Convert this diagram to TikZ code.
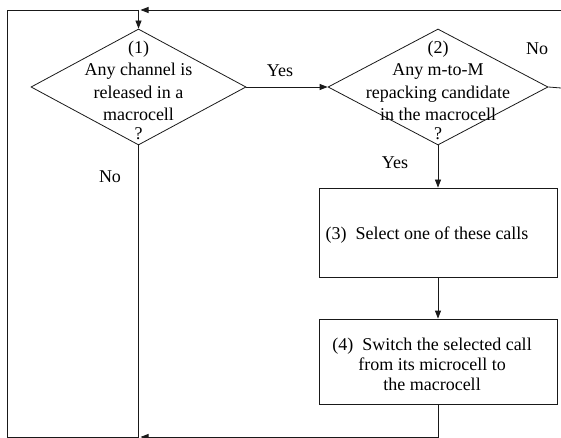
\documentclass[tikz,border=0pt]{standalone}
\usepackage{fontspec}
\setmainfont{Liberation Serif}
\usetikzlibrary{shapes.geometric,arrows.meta}
\begin{document}
\begin{tikzpicture}[x=1pt,y=-1pt,
  line/.style={draw=black!90, line width=0.8pt},
  arr/.style={line, -{Triangle[length=8pt,width=6pt]}},
  dia/.style={diamond, draw=black!90, line width=0.8pt, inner sep=0pt, minimum height=116pt},
  box/.style={rectangle, draw=black!90, line width=0.8pt, inner sep=0pt, minimum width=238pt},
  txt/.style={align=center, inner sep=0pt, font=\fontsize{18}{22.5}\selectfont},
  lbl/.style={inner sep=0pt, font=\fontsize{18}{20}\selectfont}
]
\useasboundingbox (0,0) rectangle (561,438);
\node[dia, minimum width=215pt] (d1) at (138.5,87) {};
\node[dia, minimum width=220pt] (d2) at (438,87) {};
\node[box, minimum height=89pt] (b3) at (438,232.5) {};
\node[box, minimum height=85pt] (b4) at (438,361.5) {};
\node[txt] (t1) at (138.5,90) {(1)\\Any channel is\\released in a\\macrocell\\[-4pt]?};
\node[txt] (t2) at (438,90) {(2)\\Any m-to-M\\repacking candidate\\in the macrocell\\[-4pt]?};
\node[lbl] (t3) at (427,235) {(3)\ \ Select one of these calls};
\node[txt, font=\fontsize{18}{20}\selectfont] (t4) at (432,364) {(4)\ \ Switch the selected call\\from its microcell to\\the macrocell};
\node[lbl] (y1) at (280,71) {Yes};
\node[lbl] (n2) at (537,49) {No};
\node[lbl] (y2) at (395,163) {Yes};
\node[lbl] (n1) at (110,177) {No};
\coordinate (tl) at (7,10);
\coordinate (bl) at (7,437);
\coordinate (j1) at (138.5,10);
\coordinate (j2) at (138.5,437);
\coordinate (re) at (561,88);
\coordinate (rt) at (561,10);
\coordinate (m1) at (140.5,10);
\coordinate (m2) at (140.5,437);
\draw[arr] (d1.east) -- (d2.west);
\draw[arr] (d2.south) -- (b3.north);
\draw[arr] (b3.south) -- (b4.north);
\draw[line] (d1.south) -- (j2) -- (bl) -- (tl) -- (j1);
\draw[arr] (j1) -- (d1.north);
\draw[line] (d2.east) -- (re);
\draw[arr] (rt) -- (m1);
\draw[arr] (b4.south) |- (m2);
\end{tikzpicture}
\end{document}
